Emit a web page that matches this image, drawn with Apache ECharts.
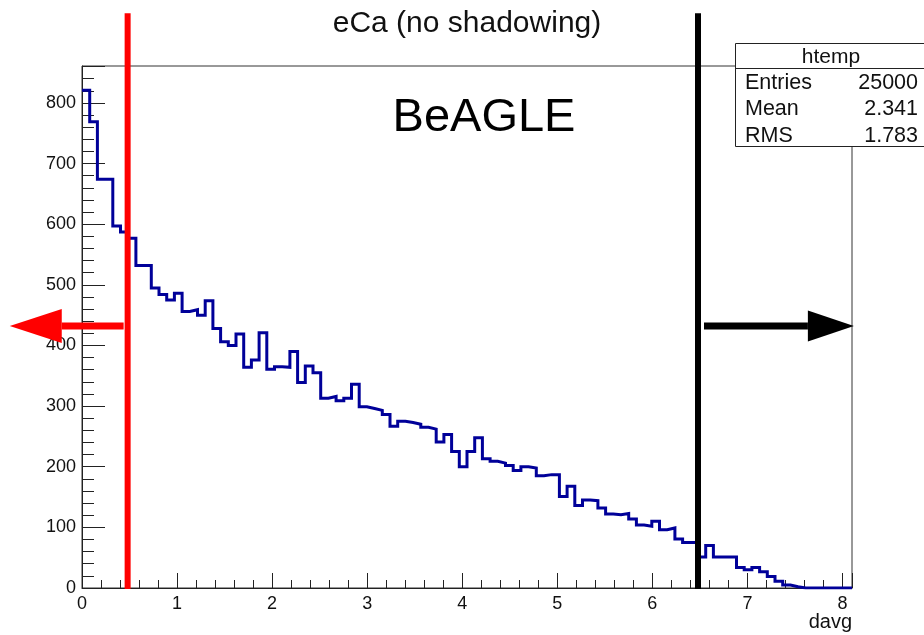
<!DOCTYPE html>
<html>
<head>
<meta charset="utf-8">
<script src="https://cdn.jsdelivr.net/npm/echarts@6/dist/echarts.min.js"></script>
<style>
  html, body { margin: 0; padding: 0; background: #fff; }
  #chart { width: 924px; height: 635px; }
</style>
</head>
<body>
<div id="chart"></div>
<script>
// Histogram of davg: 100 bins from 0 to 8.1
const binLow = 0;
const binHigh = 8.1;
const counts = [
  821, 769, 674, 674, 597, 587, 577, 532, 532, 495,
  484, 475, 486, 456, 459, 450, 474, 428, 406, 400,
  419, 364, 376, 421, 361, 365, 364, 390, 339, 366,
  355, 313, 316, 309, 313, 336, 299, 296, 293, 286,
  267, 275, 273, 270, 265, 262, 241, 253, 225, 200,
  225, 248, 213, 209, 206, 202, 194, 200, 198, 185,
  187, 187, 151, 168, 136, 145, 144, 132, 122, 121,
  123, 114, 104, 102, 110, 96, 99, 81, 75, 75,
  51, 70, 51, 51, 51, 34, 30, 34, 27, 19,
  11, 5, 2, 0, 0, 0, 0, 0, 0, 0
];
const yMax = 861;
const xTickLabels = ['0', '1', '2', '3', '4', '5', '6', '7', '8'];
const yTickLabels = ['0', '100', '200', '300', '400', '500', '600', '700', '800'];

// Selection cuts and the arrows showing the kept side
const cutLow = 0.48;
const cutHigh = 6.48;
const cutLineTop = 948;
const arrowLevel = 432;
const lowArrowTip = -0.76;
const highArrowTip = 8.12;

// Statistics box
const statsTitle = 'htemp';
const statsRows = [['Entries', '25000'], ['Mean', '2.341'], ['RMS', '1.783']];

const titleText = 'eCa (no shadowing)';
const labelText = 'BeAGLE';
const xAxisTitle = 'davg';

const FONT = '"Liberation Sans", Arial, Helvetica, sans-serif';

// Outline of the histogram: a flat segment across each bin
const binWidth = (binHigh - binLow) / counts.length;
const outline = [];
counts.forEach((c, i) => {
  const lo = +(binLow + i * binWidth).toFixed(6);
  const hi = +(binLow + (i + 1) * binWidth).toFixed(6);
  outline.push([lo, c], [hi, c]);
});

const chart = echarts.init(document.getElementById('chart'), null, { renderer: 'canvas' });

const axisColor = '#222';
chart.setOption({
  animation: false,
  backgroundColor: '#fff',
  grid: {
    left: 82, right: 72, top: 66, bottom: 47,
    show: true, borderColor: '#333', borderWidth: 1, backgroundColor: 'transparent',
    outerBoundsMode: 'none'
  },
  xAxis: {
    type: 'value', min: binLow, max: binHigh, interval: 1,
    axisLine: { show: true, onZero: false, lineStyle: { color: axisColor, width: 1 } },
    axisTick: { show: true, inside: true, length: 15, lineStyle: { color: axisColor, width: 1 } },
    minorTick: { show: true, splitNumber: 5, length: 8, lineStyle: { color: axisColor, width: 1 } },
    splitLine: { show: false },
    axisLabel: {
      show: true, margin: 7, fontSize: 18, fontFamily: FONT, color: '#111',
      showMaxLabel: false, showMinLabel: true,
      formatter: v => xTickLabels.includes(String(v)) ? String(v) : ''
    }
  },
  yAxis: {
    type: 'value', min: 0, max: yMax, interval: 100,
    axisLine: { show: true, onZero: false, lineStyle: { color: axisColor, width: 1 } },
    axisTick: { show: true, inside: true, length: 23, lineStyle: { color: axisColor, width: 1 } },
    minorTick: { show: true, splitNumber: 5, length: 12, lineStyle: { color: axisColor, width: 1 } },
    splitLine: { show: false },
    axisLabel: {
      show: true, margin: 6, fontSize: 18, fontFamily: FONT, color: '#111',
      showMaxLabel: false, showMinLabel: true,
      formatter: v => yTickLabels.includes(String(v)) ? String(v) : ''
    }
  },
  series: [{
    type: 'line',
    data: outline,
    symbol: 'none',
    clip: true,
    lineStyle: { color: '#000099', width: 3, join: 'miter' },
    z: 3
  }]
});

// Annotations placed through the chart's own scales
const px = (x, y) => chart.convertToPixel({ gridIndex: 0 }, [x, y]);

function arrow(fromX, tipX, level, color, headLen, headHalf, shaft) {
  const a = px(fromX, level);
  const b = px(tipX, level);
  const dir = b[0] > a[0] ? 1 : -1;
  const baseX = b[0] - dir * headLen;
  return [
    { type: 'rect', z: 20, shape: { x: Math.min(a[0], baseX), y: a[1] - shaft / 2, width: Math.abs(baseX - a[0]), height: shaft }, style: { fill: color } },
    { type: 'polygon', z: 20, shape: { points: [[b[0], b[1]], [baseX, b[1] - headHalf], [baseX, b[1] + headHalf]] }, style: { fill: color } }
  ];
}

function cutLine(x, color) {
  const top = px(x, cutLineTop);
  const bot = px(x, 0);
  return { type: 'line', z: 20, shape: { x1: top[0], y1: top[1], x2: bot[0], y2: bot[1] + 1 }, style: { stroke: color, lineWidth: 6 } };
}

const ePerPx = (binHigh - binLow) / (px(binHigh, 0)[0] - px(binLow, 0)[0]);

const graphics = [
  { type: 'text', z: 30, style: { text: titleText, x: 467, y: 24, font: '30px ' + FONT, fill: '#111', align: 'center', verticalAlign: 'middle' } },
  { type: 'text', z: 30, style: { text: labelText, x: 484, y: 118, font: '47px ' + FONT, fill: '#000', align: 'center', verticalAlign: 'middle' } },
  { type: 'text', z: 30, style: { text: xAxisTitle, x: px(binHigh, 0)[0], y: 622, font: '20px ' + FONT, fill: '#111', align: 'right', verticalAlign: 'middle' } },
  cutLine(cutLow, '#ff0000'),
  cutLine(cutHigh, '#000000'),
  ...arrow(cutLow - 4 * ePerPx, lowArrowTip, arrowLevel, '#ff0000', 52, 17, 7),
  ...arrow(cutHigh + 6 * ePerPx, highArrowTip, arrowLevel, '#000000', 46, 15.5, 7),
  // statistics box
  { type: 'rect', z: 40, shape: { x: 735.5, y: 43.5, width: 200, height: 103 }, style: { fill: '#fff', stroke: '#222', lineWidth: 1 } },
  { type: 'line', z: 41, shape: { x1: 735.5, y1: 68.5, x2: 924, y2: 68.5 }, style: { stroke: '#222', lineWidth: 1 } },
  { type: 'text', z: 42, style: { text: statsTitle, x: 831, y: 57, font: '21px ' + FONT, fill: '#111', align: 'center', verticalAlign: 'middle' } }
];
statsRows.forEach((row, i) => {
  const y = 83 + i * 26.5;
  graphics.push(
    { type: 'text', z: 42, style: { text: row[0], x: 745, y: y, font: '21.5px ' + FONT, fill: '#111', align: 'left', verticalAlign: 'middle' } },
    { type: 'text', z: 42, style: { text: row[1], x: 918, y: y, font: '21.5px ' + FONT, fill: '#111', align: 'right', verticalAlign: 'middle' } }
  );
});

chart.setOption({ graphic: graphics });
</script>
</body>
</html>
